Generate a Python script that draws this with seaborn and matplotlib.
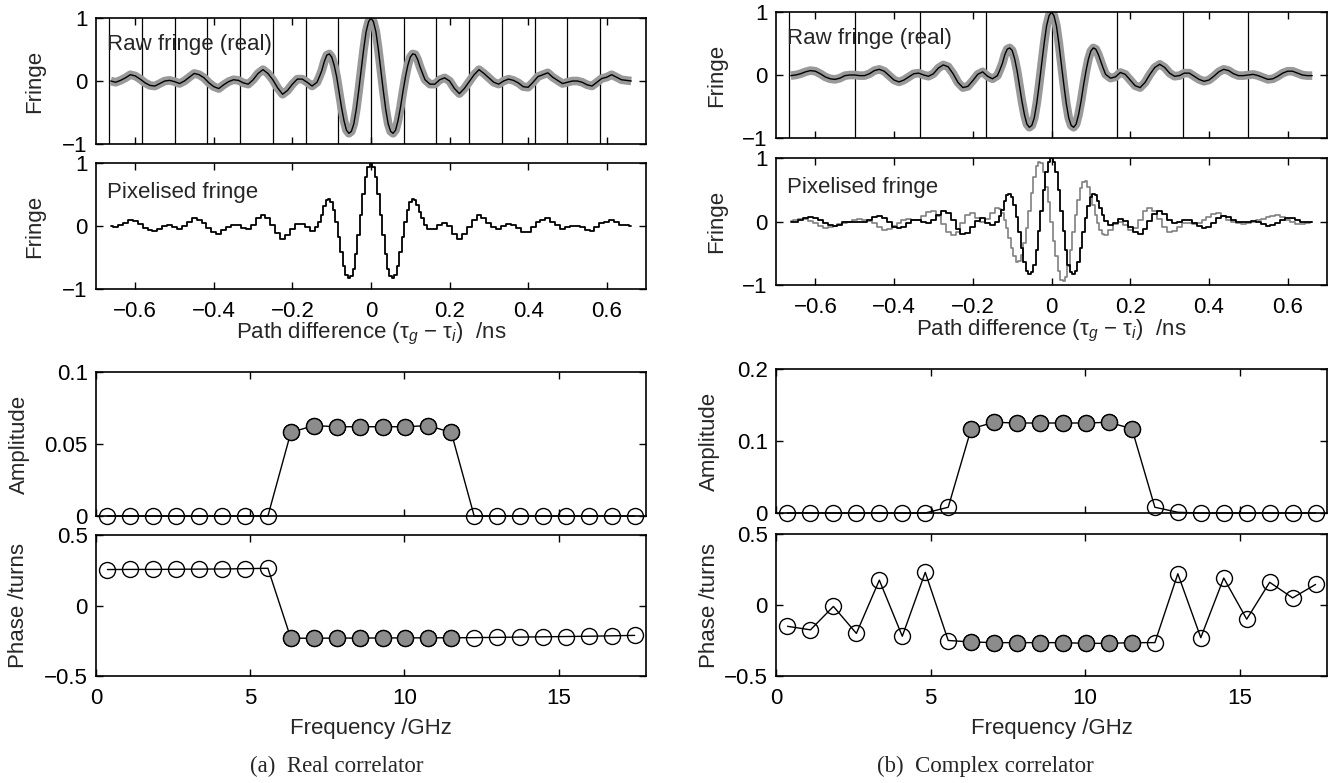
import numpy as np
import matplotlib
matplotlib.use("Agg")
import matplotlib.pyplot as plt
import seaborn as sns

# --- datos ---
# retardo (ns): pasos de 0.0125 en las colas, 0.00625 en el centro
tau_izq = np.arange(-53, -11) * 0.0125
tau_centro = np.arange(-22, 23) * 0.00625
tau_der = np.arange(12, 54) * 0.0125
tau = np.round(np.concatenate([tau_izq, tau_centro, tau_der]), 5)

# franja real (correlador real), con algo de ruido en las colas
real_a_izq = [
    0.00, -0.02, 0.01, 0.05, 0.10, 0.08, 0.03, -0.03, -0.07, -0.08,
    -0.04, 0.00, 0.01, -0.01, -0.04, 0.00, 0.06, 0.12, 0.10, 0.05,
    -0.03, -0.09, -0.12, -0.06, -0.01, 0.02, 0.01, -0.03, -0.05, 0.02,
    0.12, 0.18, 0.12, 0.02, -0.11, -0.21, -0.15, -0.05, 0.03, 0.03,
    -0.02, -0.08,
]
real_a_centro = [
    -0.02, 0.07, 0.17, 0.31, 0.41, 0.43, 0.38, 0.25, 0.07, -0.17,
    -0.42, -0.63, -0.78, -0.83, -0.80, -0.68, -0.45, -0.15, 0.17, 0.50,
    0.78, 0.94,
    1.00,
    0.94, 0.78, 0.50, 0.17, -0.15, -0.45, -0.68, -0.80, -0.83, -0.78,
    -0.63, -0.42, -0.17, 0.06, 0.25, 0.38, 0.43, 0.42, 0.34, 0.22,
    0.12, 0.02,
]
real_a_der = [
    -0.05, -0.05, 0.02, 0.05, 0.00, -0.12, -0.20, -0.12, -0.01,
    0.10, 0.18, 0.12, 0.05, -0.02, -0.05, 0.00, 0.03, 0.01, -0.03,
    -0.09, -0.10, -0.02, 0.07, 0.10, 0.13, 0.06, 0.01, -0.04, -0.02,
    0.00, 0.00, -0.02, -0.06, -0.08, -0.02, 0.04, 0.06, 0.10, 0.06,
    0.02, 0.01, 0.00,
]

# franja real (correlador complejo), mas suave
real_b_izq = [
    -0.01, 0.00, 0.02, 0.05, 0.07, 0.06, 0.02, -0.03, -0.06, -0.07,
    -0.05, -0.01, 0.00, 0.00, -0.01, -0.01, 0.02, 0.07, 0.09, 0.06,
    -0.01, -0.08, -0.11, -0.08, -0.03, 0.02, 0.03, 0.00, -0.02, 0.02,
    0.11, 0.16, 0.13, 0.02, -0.12, -0.20, -0.18, -0.09, 0.01, 0.05,
    -0.02, -0.06,
]
real_b_centro = [
    -0.01, 0.08, 0.18, 0.32, 0.41, 0.43, 0.39, 0.26, 0.07, -0.17,
    -0.42, -0.63, -0.78, -0.83, -0.80, -0.68, -0.45, -0.15, 0.17, 0.50,
    0.78, 0.94,
    1.00,
    0.94, 0.78, 0.50, 0.17, -0.15, -0.45, -0.68, -0.80, -0.83, -0.78,
    -0.63, -0.42, -0.17, 0.06, 0.25, 0.38, 0.43, 0.41, 0.33, 0.22,
    0.11, 0.01,
]
real_b_der = [
    -0.05, -0.03, 0.04, 0.01, -0.08, -0.17, -0.20, -0.12, 0.01,
    0.12, 0.17, 0.12, 0.03, -0.02, -0.01, 0.03, 0.03, -0.02, -0.07,
    -0.10, -0.08, -0.02, 0.05, 0.09, 0.07, 0.02, -0.01, -0.01, 0.00,
    0.01, -0.01, -0.04, -0.07, -0.06, -0.02, 0.03, 0.06, 0.06, 0.03,
    0.00, -0.01, -0.01,
]

# parte imaginaria (gris) del correlador complejo
imag_b_izq = [
    0.01, 0.02, 0.04, 0.04, 0.01, -0.03, -0.07, -0.10, -0.09, -0.07,
    -0.04, -0.02, 0.00, 0.02, 0.04, 0.03, 0.01, -0.03, -0.09, -0.13,
    -0.12, -0.07, -0.02, 0.03, 0.04, 0.02, 0.03, 0.08, 0.15, 0.16,
    0.09, -0.04, -0.17, -0.22, -0.16, -0.02, 0.11, 0.14, 0.06, 0.00,
    0.04, 0.14,
]
imag_b_centro = [
    0.21, 0.20, 0.14, 0.03, -0.10, -0.26, -0.42, -0.55, -0.63, -0.62,
    -0.52, -0.34, -0.10, 0.17, 0.45, 0.70, 0.88, 0.94, 0.92, 0.78,
    0.55, 0.30,
    0.00,
    -0.30, -0.55, -0.78, -0.92, -0.94, -0.88, -0.70, -0.45, -0.17, 0.10,
    0.34, 0.52, 0.62, 0.63, 0.55, 0.42, 0.26, 0.10, -0.03, -0.14,
    -0.20, -0.21,
]
imag_b_der = [
    -0.14, -0.04, 0.00, -0.06, -0.14, -0.11, 0.02, 0.16, 0.22,
    0.17, 0.04, -0.09, -0.16, -0.15, -0.08, -0.03, -0.02, -0.04, -0.03,
    0.02, 0.07, 0.12, 0.13, 0.09, 0.03, -0.01, -0.03, -0.04, -0.02,
    0.00, 0.02, 0.04, 0.07, 0.09, 0.10, 0.07, 0.03, -0.01, -0.04,
    -0.04, -0.02, -0.01,
]

franja_real_a = real_a_izq + real_a_centro + real_a_der
franja_real_b = real_b_izq + real_b_centro + real_b_der
franja_imag_b = imag_b_izq + imag_b_centro + imag_b_der

# limites de pixel (lineas verticales)
pixeles_a = [-0.6667, -0.5833, -0.5, -0.4167, -0.3333, -0.25, -0.1667, -0.0833,
             0.0, 0.0833, 0.1667, 0.25, 0.3333, 0.4167, 0.5, 0.5833]
pixeles_b = [-0.6667, -0.5, -0.3333, -0.1667, 0.0, 0.1667, 0.3333, 0.5]

# canales de frecuencia (GHz)
frecuencia = [0.372, 1.115, 1.858, 2.601, 3.344, 4.087, 4.830, 5.573,
              6.316, 7.059, 7.802, 8.545, 9.288, 10.031, 10.774, 11.517,
              12.260, 13.003, 13.746, 14.489, 15.232, 15.975, 16.718, 17.461]
en_banda = [False] * 8 + [True] * 8 + [False] * 8

amplitud_a = [0, 0, 0, 0, 0, 0, 0, 0,
              0.058, 0.0628, 0.062, 0.062, 0.062, 0.062, 0.0628, 0.058,
              0, 0, 0, 0, 0, 0, 0, 0]
fase_a = [0.255, 0.256, 0.256, 0.257, 0.258, 0.259, 0.261, 0.264,
          -0.232, -0.232, -0.231, -0.231, -0.230, -0.230, -0.229, -0.229,
          -0.228, -0.226, -0.224, -0.222, -0.220, -0.218, -0.215, -0.212]

amplitud_b = [0, 0, 0, 0, 0, 0, 0, 0.008,
              0.117, 0.126, 0.125, 0.125, 0.125, 0.125, 0.126, 0.117,
              0.008, 0.001, 0, 0, 0, 0, 0, 0]
fase_b = [-0.15, -0.175, -0.01, -0.2, 0.175, -0.22, 0.23, -0.25,
          -0.26, -0.265, -0.265, -0.265, -0.265, -0.27, -0.27, -0.265,
          -0.265, 0.22, -0.23, 0.19, -0.1, 0.16, 0.05, 0.145]

# --- estilo ---
sns.set_style("ticks")
plt.rcParams['font.family'] = ['Liberation Sans', 'DejaVu Sans']
plt.rcParams['mathtext.fontset'] = 'custom'
plt.rcParams['mathtext.rm'] = 'Liberation Sans'
plt.rcParams['mathtext.it'] = 'Liberation Sans:italic'
plt.rcParams['axes.linewidth'] = 1.2
plt.rcParams['axes.edgecolor'] = 'black'

FS = 16
GRIS = '0.6'

fig = plt.figure(figsize=(13.39, 7.83), dpi=100)


def nuevo_eje(x0, y0, x1, y1):
    return fig.add_axes([x0 / 1339, 1 - y1 / 783, (x1 - x0) / 1339, (y1 - y0) / 783])


def formato(ax, xt, xl, yt, yl, ylab, ylab_x, mostrar_x):
    ax.set_xticks(xt)
    ax.set_yticks(yt)
    ax.set_yticklabels(yl, fontsize=FS)
    if mostrar_x:
        ax.set_xticklabels(xl, fontsize=FS)
    else:
        ax.set_xticklabels([])
    ax.tick_params(direction='in', top=True, right=True, length=5, width=1,
                   colors='black')
    ax.tick_params(axis='x', pad=9)
    ax.tick_params(axis='y', pad=6)
    ax.set_ylabel(ylab, fontsize=FS, va='center')
    ax.yaxis.set_label_coords(ylab_x, 0.5)
    for s in ax.spines.values():
        s.set_visible(True)
        s.set_color('black')


xt_tau = [-0.6, -0.4, -0.2, 0, 0.2, 0.4, 0.6]
xl_tau = ['\u22120.6', '\u22120.4', '\u22120.2', '0', '0.2', '0.4', '0.6']
xt_f = [0, 5, 10, 15]
xl_f = ['0', '5', '10', '15']
lbl_tau = 'Path difference (\u03c4$_g$ \u2212 \u03c4$_i$)  /ns'

columnas = [
    dict(x0=96, x1=646, top=(18, 144), pix=(163, 289), amp=(372, 516), fas=(535, 676),
         raw=franja_real_a, lineas=pixeles_a, amp_d=amplitud_a, fas_d=fase_a,
         amp_t=[0, 0.05, 0.1], amp_l=['0', '0.05', '0.1'], amp_lim=0.1,
         yl_f=-0.111, yl_a=-0.14, caption='(a)  Real correlator', cap_x=337),
    dict(x0=776, x1=1327, top=(12, 138), pix=(158, 285), amp=(369, 513), fas=(534, 676),
         raw=franja_real_b, lineas=pixeles_b, amp_d=amplitud_b, fas_d=fase_b,
         amp_t=[0, 0.1, 0.2], amp_l=['0', '0.1', '0.2'], amp_lim=0.2,
         yl_f=-0.107, yl_a=-0.12, caption='(b)  Complex correlator', cap_x=985),
]

for i, c in enumerate(columnas):
    # franja cruda
    ax = nuevo_eje(c['x0'], c['top'][0], c['x1'], c['top'][1])
    for xv in c['lineas']:
        ax.axvline(xv, color='black', lw=0.9, zorder=1)
    sns.lineplot(x=tau, y=c['raw'], color=GRIS, lw=6.2, ax=ax, zorder=2,
                 solid_capstyle='butt')
    sns.lineplot(x=tau, y=c['raw'], color='black', lw=1.0, ax=ax, zorder=3)
    ax.set_xlim(-0.7, 0.7)
    ax.set_ylim(-1, 1)
    formato(ax, xt_tau, xl_tau, [-1, 0, 1], ['\u22121', '0', '1'], 'Fringe',
            c['yl_f'], False)
    ax.text(0.02, 0.79, 'Raw fringe (real)', transform=ax.transAxes,
            fontsize=FS, va='center', ha='left')

    # franja pixelada
    ax = nuevo_eje(c['x0'], c['pix'][0], c['x1'], c['pix'][1])
    if i == 1:
        sns.lineplot(x=tau, y=franja_imag_b, color='0.5', lw=1.2, ax=ax,
                     drawstyle='steps-mid', zorder=2)
    sns.lineplot(x=tau, y=c['raw'], color='black', lw=1.3, ax=ax,
                 drawstyle='steps-mid', zorder=3)
    ax.set_xlim(-0.7, 0.7)
    ax.set_ylim(-1, 1)
    formato(ax, xt_tau, xl_tau, [-1, 0, 1], ['\u22121', '0', '1'], 'Fringe',
            c['yl_f'], True)
    ax.text(0.02, 0.765, 'Pixelised fringe', transform=ax.transAxes,
            fontsize=FS, va='center', ha='left')
    ax.set_xlabel(lbl_tau, fontsize=FS, va='center')
    ax.xaxis.set_label_coords(0.5, -0.36)

    # amplitud y fase
    for clave, datos, yt, yl, lim, lab in [
        ('amp', c['amp_d'], c['amp_t'], c['amp_l'], (0, c['amp_lim']), 'Amplitude'),
        ('fas', c['fas_d'], [-0.5, 0, 0.5], ['\u22120.5', '0', '0.5'], (-0.5, 0.5), 'Phase /turns'),
    ]:
        y0, y1 = c[clave]
        ax = nuevo_eje(c['x0'], y0, c['x1'], y1)
        sns.lineplot(x=frecuencia, y=datos, color='black', lw=1.0, ax=ax,
                     marker='o', markersize=11.5, markerfacecolor='none',
                     markeredgecolor='black', markeredgewidth=1.0,
                     clip_on=False, zorder=3)
        f_in = [f for f, b in zip(frecuencia, en_banda) if b]
        d_in = [d for d, b in zip(datos, en_banda) if b]
        sns.scatterplot(x=f_in, y=d_in, s=132, color='0.55', edgecolor='black',
                        linewidth=1.0, ax=ax, zorder=4, clip_on=False)
        ax.set_xlim(0, 17.83)
        ax.set_ylim(*lim)
        formato(ax, xt_f, xl_f, yt, yl, lab, c['yl_a'], clave == 'fas')
        if clave == 'fas':
            ax.set_xlabel('Frequency /GHz', fontsize=FS, va='center')
            ax.xaxis.set_label_coords(0.5, -0.37)

    fig.text(c['cap_x'] / 1339, 1 - 766 / 783, c['caption'], ha='center', va='center',
             fontsize=16.5, family=['Liberation Serif', 'DejaVu Serif'])

fig.savefig('out.png', dpi=100, facecolor='white')
